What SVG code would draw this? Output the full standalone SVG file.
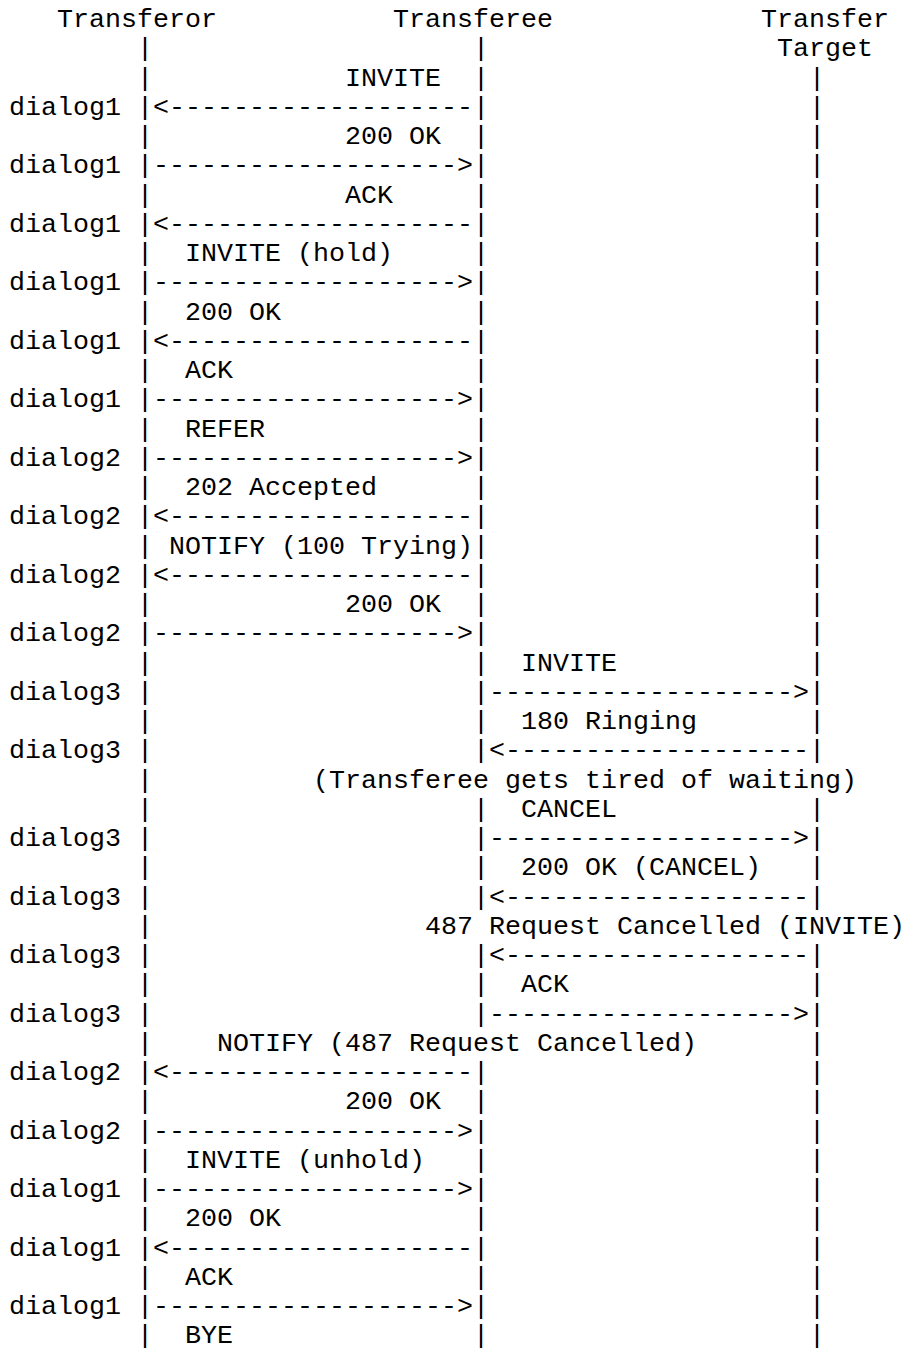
<svg xmlns="http://www.w3.org/2000/svg" width="906" height="1351" viewBox="0 0 906 1351">
<style>
text { font-family: "Liberation Mono", "Courier New", monospace; font-size: 26.667px; fill: #000; }
</style>
<rect x="0" y="0" width="906" height="1351" fill="#fff"/>
<g id="transferor">
<text x="57" y="27">Transferor</text>
<text><tspan x="137" y="56.25">|</tspan><tspan x="137" y="85.5">|</tspan><tspan x="137" y="114.75">|</tspan><tspan x="137" y="144">|</tspan><tspan x="137" y="173.25">|</tspan><tspan x="137" y="202.5">|</tspan><tspan x="137" y="231.75">|</tspan><tspan x="137" y="261">|</tspan><tspan x="137" y="290.25">|</tspan><tspan x="137" y="319.5">|</tspan><tspan x="137" y="348.75">|</tspan><tspan x="137" y="378">|</tspan><tspan x="137" y="407.25">|</tspan><tspan x="137" y="436.5">|</tspan><tspan x="137" y="465.75">|</tspan><tspan x="137" y="495">|</tspan><tspan x="137" y="524.25">|</tspan><tspan x="137" y="553.5">|</tspan><tspan x="137" y="582.75">|</tspan><tspan x="137" y="612">|</tspan><tspan x="137" y="641.25">|</tspan><tspan x="137" y="670.5">|</tspan><tspan x="137" y="699.75">|</tspan><tspan x="137" y="729">|</tspan><tspan x="137" y="758.25">|</tspan><tspan x="137" y="787.5">|</tspan><tspan x="137" y="816.75">|</tspan><tspan x="137" y="846">|</tspan><tspan x="137" y="875.25">|</tspan><tspan x="137" y="904.5">|</tspan><tspan x="137" y="933.75">|</tspan><tspan x="137" y="963">|</tspan><tspan x="137" y="992.25">|</tspan><tspan x="137" y="1021.5">|</tspan><tspan x="137" y="1050.75">|</tspan><tspan x="137" y="1080">|</tspan><tspan x="137" y="1109.25">|</tspan><tspan x="137" y="1138.5">|</tspan><tspan x="137" y="1167.75">|</tspan><tspan x="137" y="1197">|</tspan><tspan x="137" y="1226.25">|</tspan><tspan x="137" y="1255.5">|</tspan><tspan x="137" y="1284.75">|</tspan><tspan x="137" y="1314">|</tspan><tspan x="137" y="1343.25">|</tspan></text>
</g>
<g id="transferee">
<text x="393" y="27">Transferee</text>
<text><tspan x="473" y="56.25">|</tspan><tspan x="473" y="85.5">|</tspan><tspan x="473" y="114.75">|</tspan><tspan x="473" y="144">|</tspan><tspan x="473" y="173.25">|</tspan><tspan x="473" y="202.5">|</tspan><tspan x="473" y="231.75">|</tspan><tspan x="473" y="261">|</tspan><tspan x="473" y="290.25">|</tspan><tspan x="473" y="319.5">|</tspan><tspan x="473" y="348.75">|</tspan><tspan x="473" y="378">|</tspan><tspan x="473" y="407.25">|</tspan><tspan x="473" y="436.5">|</tspan><tspan x="473" y="465.75">|</tspan><tspan x="473" y="495">|</tspan><tspan x="473" y="524.25">|</tspan><tspan x="473" y="553.5">|</tspan><tspan x="473" y="582.75">|</tspan><tspan x="473" y="612">|</tspan><tspan x="473" y="641.25">|</tspan><tspan x="473" y="670.5">|</tspan><tspan x="473" y="699.75">|</tspan><tspan x="473" y="729">|</tspan><tspan x="473" y="758.25">|</tspan><tspan x="473" y="816.75">|</tspan><tspan x="473" y="846">|</tspan><tspan x="473" y="875.25">|</tspan><tspan x="473" y="904.5">|</tspan><tspan x="473" y="963">|</tspan><tspan x="473" y="992.25">|</tspan><tspan x="473" y="1021.5">|</tspan><tspan x="473" y="1080">|</tspan><tspan x="473" y="1109.25">|</tspan><tspan x="473" y="1138.5">|</tspan><tspan x="473" y="1167.75">|</tspan><tspan x="473" y="1197">|</tspan><tspan x="473" y="1226.25">|</tspan><tspan x="473" y="1255.5">|</tspan><tspan x="473" y="1284.75">|</tspan><tspan x="473" y="1314">|</tspan><tspan x="473" y="1343.25">|</tspan></text>
</g>
<g id="transfer-target">
<text x="761" y="27">Transfer</text>
<text x="777" y="56.25">Target</text>
<text><tspan x="809" y="85.5">|</tspan><tspan x="809" y="114.75">|</tspan><tspan x="809" y="144">|</tspan><tspan x="809" y="173.25">|</tspan><tspan x="809" y="202.5">|</tspan><tspan x="809" y="231.75">|</tspan><tspan x="809" y="261">|</tspan><tspan x="809" y="290.25">|</tspan><tspan x="809" y="319.5">|</tspan><tspan x="809" y="348.75">|</tspan><tspan x="809" y="378">|</tspan><tspan x="809" y="407.25">|</tspan><tspan x="809" y="436.5">|</tspan><tspan x="809" y="465.75">|</tspan><tspan x="809" y="495">|</tspan><tspan x="809" y="524.25">|</tspan><tspan x="809" y="553.5">|</tspan><tspan x="809" y="582.75">|</tspan><tspan x="809" y="612">|</tspan><tspan x="809" y="641.25">|</tspan><tspan x="809" y="670.5">|</tspan><tspan x="809" y="699.75">|</tspan><tspan x="809" y="729">|</tspan><tspan x="809" y="758.25">|</tspan><tspan x="809" y="816.75">|</tspan><tspan x="809" y="846">|</tspan><tspan x="809" y="875.25">|</tspan><tspan x="809" y="904.5">|</tspan><tspan x="809" y="963">|</tspan><tspan x="809" y="992.25">|</tspan><tspan x="809" y="1021.5">|</tspan><tspan x="809" y="1050.75">|</tspan><tspan x="809" y="1080">|</tspan><tspan x="809" y="1109.25">|</tspan><tspan x="809" y="1138.5">|</tspan><tspan x="809" y="1167.75">|</tspan><tspan x="809" y="1197">|</tspan><tspan x="809" y="1226.25">|</tspan><tspan x="809" y="1255.5">|</tspan><tspan x="809" y="1284.75">|</tspan><tspan x="809" y="1314">|</tspan><tspan x="809" y="1343.25">|</tspan></text>
</g>
<g id="dialog-labels">
<text x="9" y="114.75">dialog1</text>
<text x="9" y="173.25">dialog1</text>
<text x="9" y="231.75">dialog1</text>
<text x="9" y="290.25">dialog1</text>
<text x="9" y="348.75">dialog1</text>
<text x="9" y="407.25">dialog1</text>
<text x="9" y="465.75">dialog2</text>
<text x="9" y="524.25">dialog2</text>
<text x="9" y="582.75">dialog2</text>
<text x="9" y="641.25">dialog2</text>
<text x="9" y="699.75">dialog3</text>
<text x="9" y="758.25">dialog3</text>
<text x="9" y="846">dialog3</text>
<text x="9" y="904.5">dialog3</text>
<text x="9" y="963">dialog3</text>
<text x="9" y="1021.5">dialog3</text>
<text x="9" y="1080">dialog2</text>
<text x="9" y="1138.5">dialog2</text>
<text x="9" y="1197">dialog1</text>
<text x="9" y="1255.5">dialog1</text>
<text x="9" y="1314">dialog1</text>
</g>
<g id="connectors">
<g><text x="345" y="85.5">INVITE</text><text x="153" y="114.75">&lt;-------------------</text></g>
<g><text x="345" y="144">200 OK</text><text x="153" y="173.25">-------------------&gt;</text></g>
<g><text x="345" y="202.5">ACK</text><text x="153" y="231.75">&lt;-------------------</text></g>
<g><text x="185" y="261">INVITE (hold)</text><text x="153" y="290.25">-------------------&gt;</text></g>
<g><text x="185" y="319.5">200 OK</text><text x="153" y="348.75">&lt;-------------------</text></g>
<g><text x="185" y="378">ACK</text><text x="153" y="407.25">-------------------&gt;</text></g>
<g><text x="185" y="436.5">REFER</text><text x="153" y="465.75">-------------------&gt;</text></g>
<g><text x="185" y="495">202 Accepted</text><text x="153" y="524.25">&lt;-------------------</text></g>
<g><text x="169" y="553.5">NOTIFY (100 Trying)</text><text x="153" y="582.75">&lt;-------------------</text></g>
<g><text x="345" y="612">200 OK</text><text x="153" y="641.25">-------------------&gt;</text></g>
<g><text x="521" y="670.5">INVITE</text><text x="489" y="699.75">-------------------&gt;</text></g>
<g><text x="521" y="729">180 Ringing</text><text x="489" y="758.25">&lt;-------------------</text></g>
<g><text x="313" y="787.5">(Transferee gets tired of waiting)</text></g>
<g><text x="521" y="816.75">CANCEL</text><text x="489" y="846">-------------------&gt;</text></g>
<g><text x="521" y="875.25">200 OK (CANCEL)</text><text x="489" y="904.5">&lt;-------------------</text></g>
<g><text x="425" y="933.75">487 Request Cancelled (INVITE)</text><text x="489" y="963">&lt;-------------------</text></g>
<g><text x="521" y="992.25">ACK</text><text x="489" y="1021.5">-------------------&gt;</text></g>
<g><text x="217" y="1050.75">NOTIFY (487 Request Cancelled)</text><text x="153" y="1080">&lt;-------------------</text></g>
<g><text x="345" y="1109.25">200 OK</text><text x="153" y="1138.5">-------------------&gt;</text></g>
<g><text x="185" y="1167.75">INVITE (unhold)</text><text x="153" y="1197">-------------------&gt;</text></g>
<g><text x="185" y="1226.25">200 OK</text><text x="153" y="1255.5">&lt;-------------------</text></g>
<g><text x="185" y="1284.75">ACK</text><text x="153" y="1314">-------------------&gt;</text></g>
<g><text x="185" y="1343.25">BYE</text></g>
</g>
</svg>
